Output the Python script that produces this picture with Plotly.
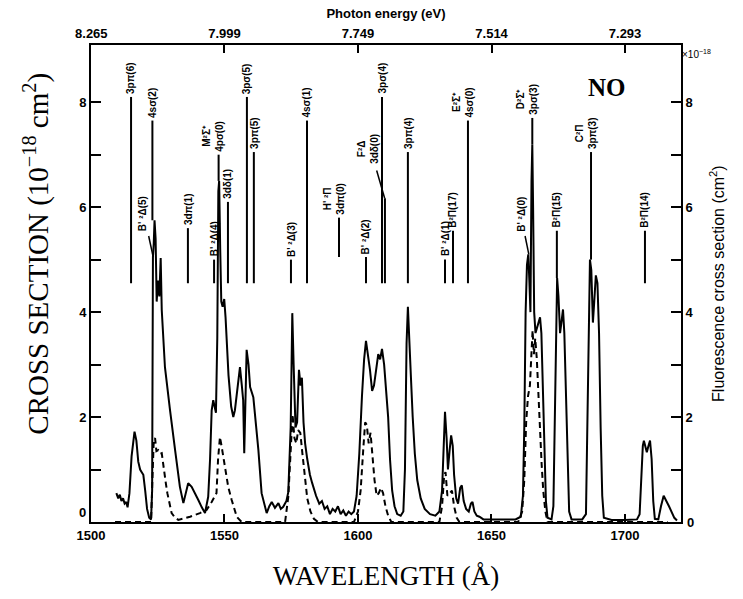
import plotly.graph_objects as go

# ---------------- data ----------------
solid_wl = [1509.5, 1510.2, 1510.8, 1511.4, 1512.0, 1512.6, 1513.2, 1513.7, 1514.4, 1515.2,
            1516.3, 1517.0, 1517.7, 1518.4, 1519.0, 1519.6, 1520.3, 1521.0, 1521.8, 1522.5,
            1522.9, 1523.2, 1523.5, 1523.8, 1524.2, 1524.6, 1525.1, 1525.6, 1526.1, 1526.5,
            1527.7, 1528.6, 1529.6, 1531.5, 1533.3, 1534.6, 1535.5, 1536.4, 1537.7, 1539.0,
            1540.2, 1541.5, 1542.7, 1543.9, 1544.6, 1545.2, 1545.8, 1546.8, 1547.3, 1547.7,
            1548.0, 1548.4, 1548.8, 1549.3, 1549.9, 1550.4, 1550.8, 1551.5, 1552.5, 1553.3,
            1553.9, 1555.0, 1555.8, 1556.5, 1557.0, 1557.4, 1557.8, 1558.3, 1559.0, 1559.6,
            1560.8, 1561.7, 1562.7, 1563.9, 1565.0, 1565.8, 1566.8, 1567.7, 1568.9, 1570.2,
            1571.1, 1572.0, 1573.2, 1573.9, 1574.8, 1575.4, 1575.9, 1576.6, 1577.2, 1577.9,
            1578.5, 1579.0, 1579.6, 1580.2, 1581.0, 1582.0, 1582.8, 1584.3, 1585.5, 1586.5,
            1587.5, 1588.5, 1589.5, 1590.5, 1591.5, 1592.5, 1593.5, 1594.5, 1595.5, 1596.5,
            1597.5, 1598.5, 1599.5, 1600.5, 1601.5, 1602.3, 1603.0, 1603.7, 1604.5, 1605.3,
            1606.0, 1606.8, 1607.6, 1608.3, 1609.0, 1609.8, 1610.5, 1611.3, 1612.0, 1612.8,
            1613.7, 1614.7, 1616.0, 1617.0, 1617.6, 1618.2, 1618.7, 1619.2, 1619.8, 1620.5,
            1621.3, 1622.2, 1623.5, 1625.0, 1627.0, 1629.0, 1630.5, 1631.5, 1632.2, 1632.6,
            1633.2, 1633.7, 1634.3, 1634.9, 1635.5, 1636.0, 1636.8, 1637.5, 1638.3, 1638.9,
            1639.6, 1640.5, 1641.5, 1642.3, 1642.9, 1643.6, 1644.5, 1645.5, 1647.0, 1650.0,
            1655.0, 1659.0, 1661.0, 1661.8, 1662.3, 1662.8, 1663.3, 1663.8, 1664.2, 1664.6,
            1665.0, 1665.3, 1665.6, 1666.0, 1666.5, 1667.0, 1667.6, 1668.2, 1668.7, 1669.2,
            1669.8, 1670.4, 1671.0, 1672.5, 1673.2, 1673.8, 1674.3, 1674.6, 1675.1, 1675.7,
            1676.2, 1676.8, 1677.3, 1677.9, 1678.5, 1679.1, 1680.0, 1684.0, 1685.4, 1686.0,
            1686.5, 1686.9, 1687.4, 1688.0, 1688.5, 1689.1, 1689.7, 1690.3, 1690.9, 1691.5,
            1692.1, 1695.0, 1700.0, 1704.5, 1705.5, 1706.2, 1706.7, 1707.1, 1707.7, 1708.2,
            1708.8, 1709.4, 1710.0, 1710.6, 1711.2, 1712.5, 1713.5, 1714.5, 1716.5, 1718.5,
            1719.5]
solid_xs = [0.55, 0.45, 0.52, 0.40, 0.45, 0.35, 0.38, 0.28, 0.55, 1.25,
            1.72, 1.55, 1.15, 1.00, 0.95, 0.90, 0.60, 0.25, 0.08, 0.05,
            0.60, 5.05, 5.30, 5.75, 5.40, 4.20, 4.60, 4.30, 5.03, 4.04,
            2.95, 2.50, 2.13, 1.37, 0.67, 0.36, 0.55, 0.74, 0.67, 0.55,
            0.42, 0.28, 0.17, 0.48, 1.20, 2.13, 2.32, 2.08, 3.50, 6.30,
            6.50, 5.20, 4.20, 4.10, 4.25, 3.90, 3.40, 2.80, 2.20, 2.00,
            2.13, 2.60, 2.95, 2.60, 2.32, 1.31, 2.40, 3.28, 3.00, 2.57,
            2.38, 1.90, 1.37, 0.55, 0.30, 0.17, 0.30, 0.38, 0.27, 0.36,
            0.25, 0.29, 0.40, 0.57, 1.81, 3.98, 3.00, 1.80, 1.90, 2.90,
            2.60, 2.75, 1.90, 1.50, 1.20, 0.90, 0.75, 0.50, 0.35, 0.40,
            0.25, 0.30, 0.15, 0.25, 0.20, 0.30, 0.15, 0.22, 0.12, 0.20,
            0.15, 0.20, 0.50, 1.30, 2.40, 3.10, 3.45, 3.20, 2.90, 2.50,
            2.60, 2.90, 3.20, 3.10, 3.30, 3.00, 2.60, 2.00, 1.20, 0.60,
            0.30, 0.15, 0.12, 0.20, 1.00, 3.40, 4.10, 3.60, 2.80, 2.00,
            1.30, 0.80, 0.45, 0.25, 0.15, 0.12, 0.20, 0.60, 1.80, 2.10,
            1.60, 1.00, 1.35, 1.65, 1.45, 0.90, 0.45, 0.35, 0.65, 0.70,
            0.40, 0.25, 0.20, 0.35, 0.38, 0.20, 0.12, 0.10, 0.05, 0.05,
            0.04, 0.05, 0.10, 0.50, 1.80, 4.00, 4.90, 5.10, 4.60, 4.00,
            6.50, 7.20, 6.00, 4.00, 3.60, 3.70, 3.80, 3.90, 3.60, 2.60,
            1.30, 0.40, 0.08, 0.05, 0.30, 2.50, 4.40, 4.65, 4.30, 3.60,
            3.80, 4.05, 3.60, 2.30, 0.90, 0.20, 0.05, 0.05, 0.15, 2.00,
            4.30, 5.00, 4.80, 3.80, 4.20, 4.70, 4.55, 3.60, 1.80, 0.50,
            0.08, 0.04, 0.04, 0.05, 0.15, 0.90, 1.45, 1.55, 1.40, 1.33,
            1.45, 1.55, 1.20, 0.40, 0.06, 0.05, 0.30, 0.50, 0.30, 0.08,
            0.03]

fluor_wl = [1509.0, 1522.5, 1523.0, 1523.5, 1524.0, 1524.5, 1525.2, 1526.0, 1526.5, 1527.1,
            1528.0, 1528.6, 1529.4, 1530.2, 1531.5, 1532.7, 1535.0, 1537.1, 1540.8, 1543.3,
            1545.2, 1547.0, 1547.6, 1548.3, 1548.9, 1549.6, 1550.2, 1550.8, 1551.4, 1552.7,
            1553.6, 1554.6, 1556.4, 1572.7, 1573.9, 1574.6, 1575.1, 1575.5, 1576.2, 1576.9,
            1577.6, 1578.4, 1579.2, 1580.0, 1581.0, 1582.2, 1583.5, 1585.0, 1598.5, 1600.0,
            1601.0, 1602.0, 1602.7, 1603.3, 1604.0, 1604.7, 1605.4, 1606.2, 1607.0, 1607.8,
            1608.6, 1609.4, 1610.3, 1611.3, 1612.5, 1630.5, 1631.5, 1632.3, 1632.8, 1633.5,
            1634.5, 1635.2, 1636.0, 1637.0, 1638.0, 1660.0, 1661.5, 1662.3, 1663.0, 1663.7,
            1664.4, 1665.0, 1665.4, 1665.9, 1666.4, 1667.0, 1667.6, 1668.2, 1668.8, 1669.4,
            1670.2, 1671.0, 1716.0]
fluor_xs = [0.0, 0.0, 0.8, 1.55, 1.6, 1.35, 1.37, 1.30, 1.31, 1.05,
            0.75, 0.55, 0.35, 0.17, 0.08, 0.04, 0.07, 0.10, 0.17, 0.23,
            0.38, 0.55, 1.20, 1.62, 1.45, 1.24, 1.05, 0.86, 0.67, 0.42,
            0.25, 0.10, 0.0, 0.0, 0.48, 1.20, 1.56, 2.05, 1.60, 1.50,
            1.75, 1.70, 1.30, 0.90, 0.45, 0.20, 0.06, 0.0, 0.0, 0.20,
            0.60, 1.40, 1.90, 1.85, 1.50, 1.70, 1.20, 0.80, 0.50, 0.55,
            0.65, 0.55, 0.30, 0.12, 0.0, 0.0, 0.30, 0.90, 0.95, 0.50,
            0.55, 0.60, 0.30, 0.08, 0.0, 0.0, 0.20, 0.80, 1.90, 2.40,
            2.60, 3.30, 3.65, 3.20, 3.50, 3.10, 2.40, 1.60, 1.10, 0.60,
            0.20, 0.0, 0.0]

x_ticks = [1500, 1550, 1600, 1650, 1700]
y_major = [2, 4, 6, 8]
y_minor = [1, 3, 5, 7]
energy_labels = ["8.265", "7.999", "7.749", "7.514", "7.293"]

# assignment markers: wavelength, line bottom, line top, label
line_wl = [1515.0, 1523.0, 1536.3, 1546.1, 1547.8, 1551.3, 1558.4, 1561.0, 1574.9, 1580.9,
           1592.9, 1603.0, 1609.0, 1610.1, 1618.7, 1632.6, 1635.6, 1641.2, 1665.3, 1674.5,
           1687.3, 1707.5]
line_lo = [4.55, 5.75, 4.55, 4.55, 6.5, 4.55, 4.55, 4.55, 4.55, 4.55,
           5.05, 4.55, 4.55, 4.55, 4.55, 4.55, 4.55, 4.55, 7.2, 4.65,
           5.0, 4.55]
line_hi = [8.1, 7.65, 5.6, 5.0, 7.0, 6.1, 8.1, 7.05, 5.0, 7.65,
           5.8, 5.05, 8.1, 6.17, 7.05, 5.0, 5.55, 7.65, 7.7, 5.55,
           7.05, 5.55]
line_text = ["3pπ(6)", "4sσ(2)", "3dπ(1)", "B' ²Δ(4)", "M²Σ⁺<br>4pσ(0)", "3dδ(1)",
             "3pσ(5)", "3pπ(5)", "B' ²Δ(3)", "4sσ(1)", "H' ²Π<br>3dπ(0)", "B' ²Δ(2)",
             "3pσ(4)", "", "3pπ(4)", "B' ²Δ(1)", "B²Π(17)", "E²Σ⁺<br>4sσ(0)",
             "D²Σ⁺<br>3pσ(3)", "B²Π(15)", "C²Π<br>3pπ(3)", "B²Π(14)"]

# labels connected with a slanted leader
lead_text = ["B' ²Δ(5)", "F²Δ<br>3dδ(0)", "B' ²Δ(0)"]
lead_text_wl = [1519.6, 1604.0, 1661.4]
lead_text_y = [5.5, 6.78, 5.5]
lead_start_wl = [1521.6, 1607.0, 1662.6]
lead_start_y = [5.45, 6.7, 5.45]
lead_end_wl = [1523.3, 1610.0, 1664.0]
lead_end_y = [5.05, 6.17, 5.1]

# ---------------- figure ----------------
XR = [1500, 1721]
YR = [0, 9.09]
tick_font = dict(family="Liberation Sans", size=13, color="black", weight="bold")
lab_font = dict(family="Liberation Sans", size=10, color="black", weight="bold")

fig = go.Figure()
fig.add_trace(go.Scatter(x=solid_wl, y=solid_xs, mode="lines",
                         line=dict(color="black", width=2), showlegend=False))
fig.add_trace(go.Scatter(x=fluor_wl, y=fluor_xs, mode="lines", xaxis="x2", yaxis="y2",
                         line=dict(color="black", width=2, dash="6px,4px"), showlegend=False))

shapes = []
annotations = []
for wl, lo, hi, t in zip(line_wl, line_lo, line_hi, line_text):
    shapes.append(dict(type="line", xref="x", yref="y", x0=wl, x1=wl, y0=lo, y1=hi,
                       line=dict(color="black", width=2)))
    if t:
        annotations.append(dict(x=wl, y=hi, xref="x", yref="y", text=t, showarrow=False,
                                textangle=-90, xanchor="center", yanchor="bottom",
                                yshift=1, xshift=-5 if "<br>" in t else 0,
                                font=lab_font))
for t, tx, ty, sx, sy, ex, ey in zip(lead_text, lead_text_wl, lead_text_y,
                                     lead_start_wl, lead_start_y, lead_end_wl, lead_end_y):
    shapes.append(dict(type="line", xref="x", yref="y", x0=sx, y0=sy, x1=ex, y1=ey,
                       line=dict(color="black", width=1.5)))
    annotations.append(dict(x=tx, y=ty, xref="x", yref="y", text=t, showarrow=False,
                            textangle=-90, xanchor="center", yanchor="bottom",
                            font=lab_font))

# zero labels (raised a little on the left, as in the original)
annotations.append(dict(x=0, y=0, xref="paper", yref="paper", text="0", showarrow=False,
                        xanchor="right", yanchor="middle", xshift=-3, yshift=10, font=tick_font))
annotations.append(dict(x=1, y=0, xref="paper", yref="paper", text="0", showarrow=False,
                        xanchor="left", yanchor="middle", xshift=4, yshift=0, font=tick_font))
annotations.append(dict(x=0.91, y=0.943, xref="paper", yref="paper", text="<b>NO</b>",
                        showarrow=False, font=dict(family="Liberation Serif", size=25, color="black")))
annotations.append(dict(x=1.055, y=0.997, xref="paper", yref="paper", text="×10<sup>−18</sup>",
                        showarrow=False, font=dict(family="Liberation Sans", size=10, color="black")))
# left axis title placed to match the original position
annotations.append(dict(x=-0.092, y=0.562, xref="paper", yref="paper",
                        text="CROSS SECTION (10<sup>−18</sup> cm<sup>2</sup>)", showarrow=False,
                        textangle=-90, xanchor="center", yanchor="middle",
                        font=dict(family="Liberation Serif", size=29, color="black")))
# right axis title
annotations.append(dict(x=1.06, y=0.50, xref="paper", yref="paper",
                        text="Fluorescence cross section (cm<sup>2</sup>)", showarrow=False,
                        textangle=-90, xanchor="center", yanchor="middle",
                        font=dict(family="Liberation Sans", size=16, color="black")))

axis_common = dict(showgrid=False, zeroline=False, showline=True, linecolor="black",
                   linewidth=2, ticks="inside", tickcolor="black", tickwidth=1.5,
                   tickfont=tick_font)
minor_y = dict(tickvals=y_minor, ticks="inside", ticklen=10, tickwidth=1.5, tickcolor="black",
               showgrid=False)

fig.update_layout(
    width=743, height=599,
    margin=dict(l=91, r=62, t=45, b=77),
    paper_bgcolor="white", plot_bgcolor="white",
    shapes=shapes, annotations=annotations,
    xaxis=dict(range=XR, tickvals=x_ticks, ticklen=8,
               title=dict(text="WAVELENGTH (Å)", standoff=25,
                          font=dict(family="Liberation Serif", size=27, color="black")),
               **axis_common),
    xaxis2=dict(range=XR, overlaying="x", side="top",
                tickvals=[12398.42 / float(e) for e in energy_labels], ticktext=energy_labels,
                ticklen=8,
                title=dict(text="Photon energy (eV)", standoff=4,
                           font=dict(family="Liberation Sans", size=13, color="black", weight="bold")),
                **axis_common),
    yaxis=dict(range=YR, tickvals=y_major, ticklen=10, minor=minor_y, **axis_common),
    yaxis2=dict(range=YR, overlaying="y", side="right", tickvals=y_major, ticklen=10,
                minor=minor_y, **axis_common),
)

fig.write_html("out.html")
